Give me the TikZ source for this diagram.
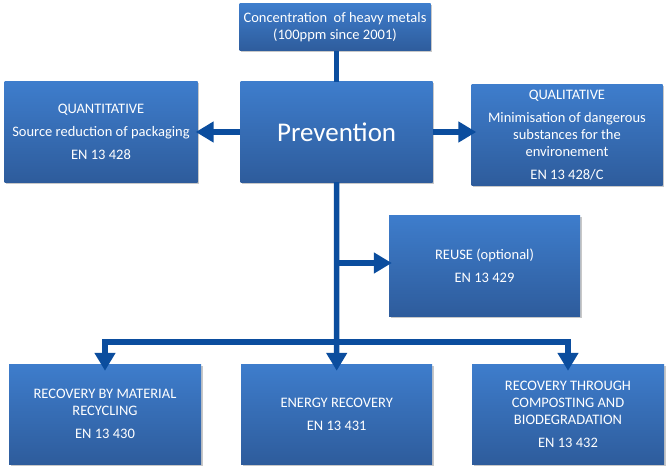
\documentclass[tikz,border=0pt]{standalone}
\usepackage{fontspec}
\setmainfont{Carlito}
\usetikzlibrary{arrows.meta,shadows}
\definecolor{boxtop}{HTML}{3E7DCC}
\definecolor{boxbot}{HTML}{2E5C9C}
\definecolor{linkblue}{HTML}{0B4D9E}
\tikzset{
  bluebox/.style={rectangle, top color=boxtop, bottom color=boxbot, draw=none,
    text=white, align=center, font=\fontsize{14.5}{17}\selectfont, inner sep=2pt,
    drop shadow={shadow xshift=1.5pt, shadow yshift=-1.5pt, opacity=0.3, fill=black!70}},
  link/.style={draw=linkblue, line width=5.5pt},
  linkarrow/.style={link, -{Triangle[width=20pt,length=18pt]}},
}
\begin{document}
\begin{tikzpicture}[x=1pt,y=-1pt]
\fill[white] (0,0) rectangle (668,473);
\useasboundingbox (0,0) rectangle (668,473);

\node[bluebox, minimum width=191pt, minimum height=47pt] (top) at (335,27.5)
  {Concentration\ \ of heavy metals\\(100ppm since 2001)};
\node[bluebox, minimum width=192pt, minimum height=100pt, font=\fontsize{27}{30}\selectfont] (prev) at (336.6,132) {Prevention};
\node[bluebox, minimum width=193pt, minimum height=100pt] (left) at (101,132)
  {QUANTITATIVE\\[6pt]Source reduction of packaging\\[6pt]EN 13 428};
\node[bluebox, minimum width=191pt, minimum height=100pt] (right) at (567,135)
  {QUALITATIVE\\[6pt]Minimisation of dangerous\\substances for the\\environement\\[6pt]EN 13 428/C};
\node[bluebox, minimum width=191pt, minimum height=101pt] (reuse) at (484.5,265.5)
  {REUSE (optional)\\[6pt]EN 13 429};
\node[bluebox, minimum width=192pt, minimum height=100pt] (b1) at (105,414)
  {RECOVERY BY MATERIAL\\RECYCLING\\[6pt]EN 13 430};
\node[bluebox, minimum width=191pt, minimum height=100pt] (b2) at (336.7,414)
  {ENERGY RECOVERY\\[6pt]EN 13 431};
\node[bluebox, minimum width=192pt, minimum height=100pt] (b3) at (568,414)
  {RECOVERY THROUGH\\COMPOSTING AND\\BIODEGRADATION\\[6pt]EN 13 432};

\coordinate (hj) at (336.6,342);
\coordinate (rj) at (336.6,263);

\draw[link] (prev.north |- top.south) -- (prev.north);
\draw[linkarrow, shorten >=-2pt] (prev.west) -- (left.east |- prev.west);
\draw[linkarrow, shorten >=-5pt] (prev.east) -- (right.west |- prev.east);
\draw[linkarrow, shorten >=-7pt] (prev.south) -- (b2.north);
\draw[linkarrow, shorten >=-7pt] (hj) -| (b1.north);
\draw[linkarrow, shorten >=-7pt] (hj) -| (b3.north);
\draw[linkarrow, shorten >=-3pt] (rj) -- (rj -| reuse.west);
\end{tikzpicture}
\end{document}
